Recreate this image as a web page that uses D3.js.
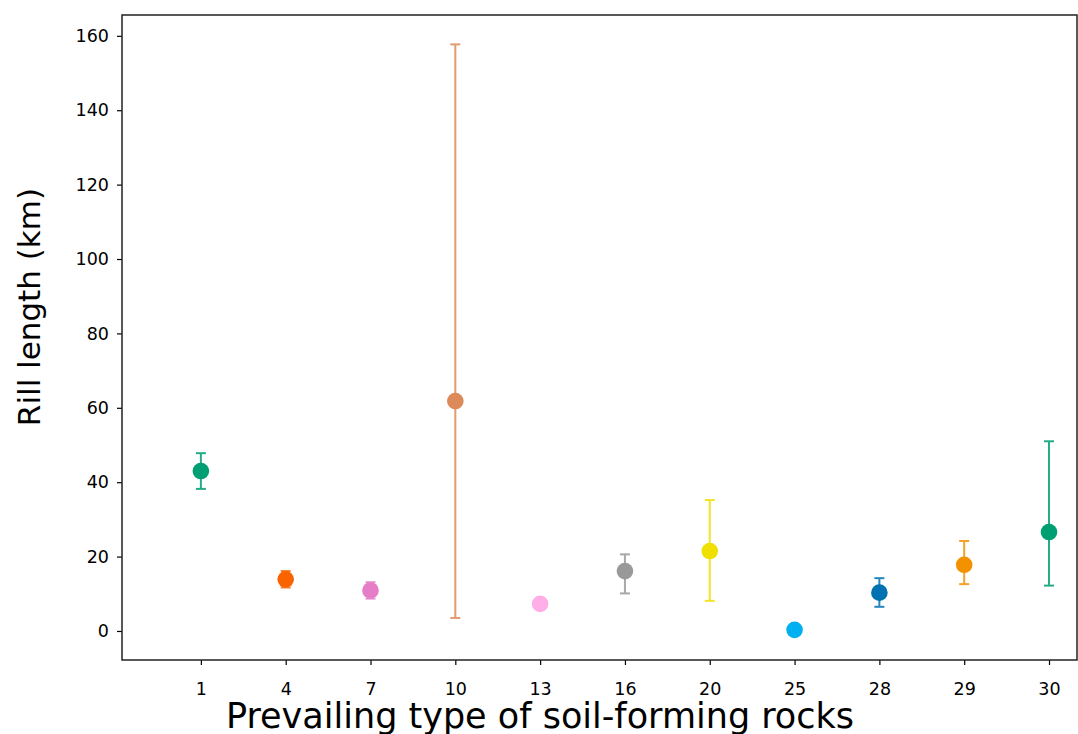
<!DOCTYPE html>
<html>
<head>
<meta charset="utf-8">
<script src="https://cdn.jsdelivr.net/npm/d3@7"></script>
<style>
  body { margin: 0; background: #fff; }
  text { font-family: "DejaVu Sans", sans-serif; }
</style>
</head>
<body>
<svg id="my_svg"></svg>
<script>
const width = 1078;
const height = 734;

// rock types (categorical x axis)
const categories = ['1', '4', '7', '10', '13', '16', '20', '25', '28', '29', '30'];
const means = [43.0, 13.9, 10.9, 61.8, 7.3, 16.1, 21.5, 0.3, 10.3, 17.8, 26.6];
const lower = [38.2, 11.7, 8.7, 3.5, 7.3, 10.1, 8.1, 0.3, 6.5, 12.6, 12.2];
const upper = [47.8, 16.1, 13.1, 157.7, 7.3, 20.6, 35.2, 0.3, 14.2, 24.2, 51.0];
const colors = ['#009e73', '#f96400', '#e57ec7', '#dd8a5a', '#ffaee8', '#999999',
                '#f0e000', '#00b0f0', '#0072b2', '#f39200', '#009e73'];
const yTicks = [0, 20, 40, 60, 80, 100, 120, 140, 160];

const margin = {left: 122, right: 1, top: 15, bottom: 74};

const svg = d3.select('#my_svg')
    .attr('width', width)
    .attr('height', height);

const x = d3.scaleLinear()
    .domain([-0.93, 10.33])
    .range([margin.left, width - margin.right]);

const y = d3.scaleLinear()
    .domain([-7.8, 165.6])
    .range([height - margin.bottom, margin.top]);

const data = categories.map((c, i) => ({
    cat: c, idx: i, mean: means[i], lo: lower[i], hi: upper[i], color: colors[i]
}));

// axes
const xAxis = d3.axisBottom(x)
    .tickValues(d3.range(categories.length))
    .tickFormat(i => categories[i])
    .tickSize(5)
    .tickPadding(18);

const yAxis = d3.axisLeft(y)
    .tickValues(yTicks)
    .tickSize(5)
    .tickPadding(8);

const gx = svg.append('g')
    .attr('transform', `translate(0, ${height - margin.bottom})`)
    .call(xAxis);

const gy = svg.append('g')
    .attr('transform', `translate(${margin.left}, 0)`)
    .call(yAxis);

[gx, gy].forEach(g => {
    g.select('.domain').remove();
    g.selectAll('.tick line').attr('stroke', '#000').attr('stroke-width', 1.2);
    g.selectAll('.tick text').attr('fill', '#000').style('font-size', '17.5px');
});
gx.selectAll('.tick text').attr('dy', '0.71em');

// frame
svg.append('rect')
    .attr('x', margin.left)
    .attr('y', margin.top)
    .attr('width', width - margin.right - margin.left)
    .attr('height', height - margin.bottom - margin.top)
    .attr('fill', 'none')
    .attr('stroke', '#222')
    .attr('stroke-width', 1.5);

// error bars
const eb = svg.append('g')
    .selectAll('g')
    .data(data.filter(d => d.hi - d.lo > 0.1))
    .enter().append('g')
    .attr('stroke', d => d.color)
    .attr('stroke-width', 2)
    .attr('opacity', 0.85);

eb.append('line')
    .attr('x1', d => x(d.idx))
    .attr('x2', d => x(d.idx))
    .attr('y1', d => y(d.lo))
    .attr('y2', d => y(d.hi));

eb.append('line')
    .attr('x1', d => x(d.idx) - 5)
    .attr('x2', d => x(d.idx) + 5)
    .attr('y1', d => y(d.hi))
    .attr('y2', d => y(d.hi));

eb.append('line')
    .attr('x1', d => x(d.idx) - 5)
    .attr('x2', d => x(d.idx) + 5)
    .attr('y1', d => y(d.lo))
    .attr('y2', d => y(d.lo));

// markers
svg.append('g')
    .selectAll('circle')
    .data(data)
    .enter().append('circle')
    .attr('cx', d => x(d.idx))
    .attr('cy', d => y(d.mean))
    .attr('r', 8.3)
    .attr('fill', d => d.color);

// axis labels
svg.append('text')
    .attr('x', 540)
    .attr('y', 728)
    .attr('text-anchor', 'middle')
    .style('font-size', '35px')
    .text('Prevailing type of soil-forming rocks');

svg.append('text')
    .attr('transform', 'translate(40, 307) rotate(-90)')
    .attr('text-anchor', 'middle')
    .style('font-size', '31px')
    .text('Rill length (km)');
</script>
</body>
</html>
